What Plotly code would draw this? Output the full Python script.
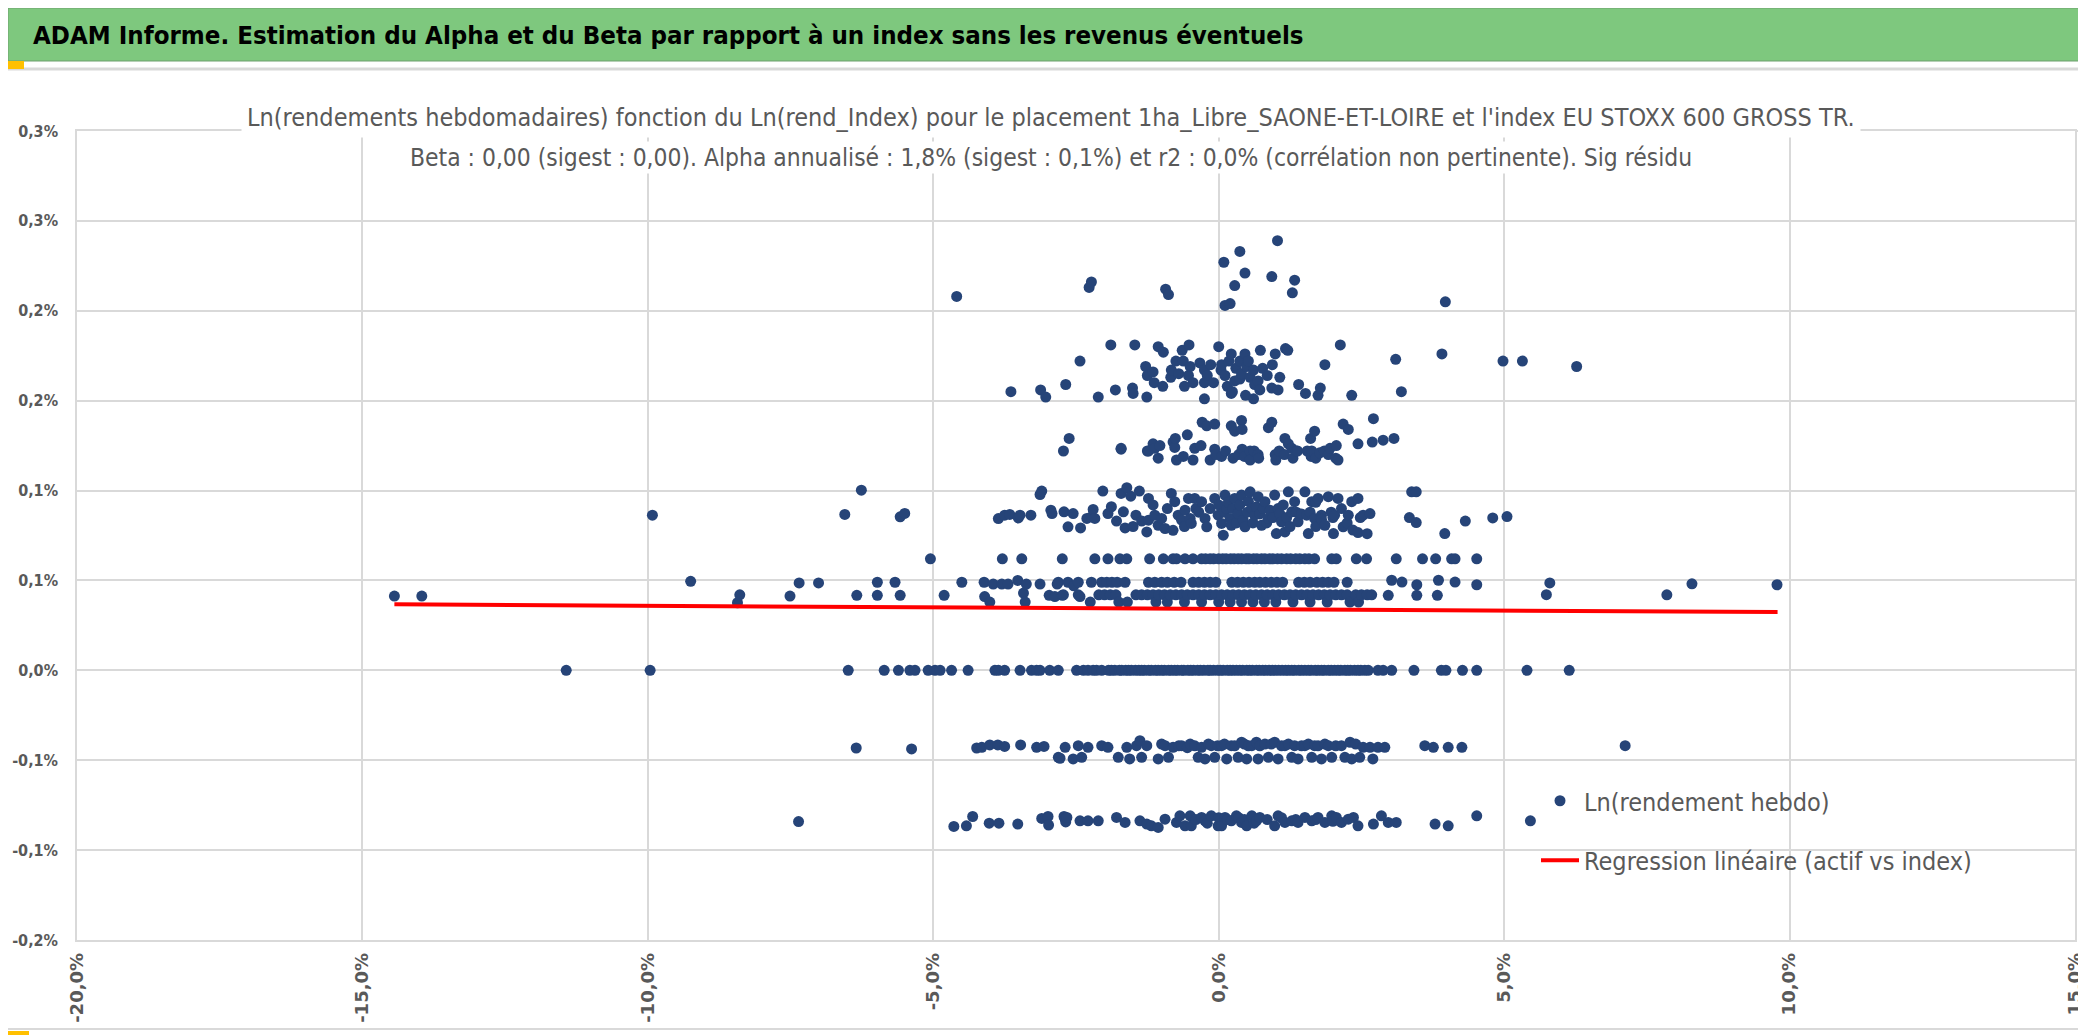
import plotly.graph_objects as go

# --- texts ---------------------------------------------------------------
banner = "ADAM Informe. Estimation du Alpha et du Beta par rapport à un index sans les revenus éventuels"
title_line1 = ("Ln(rendements hebdomadaires) fonction du Ln(rend_Index) pour le placement "
               "1ha_Libre_SAONE-ET-LOIRE et l'index EU STOXX 600 GROSS TR.")
title_line2 = ("Beta : 0,00 (sigest : 0,00). Alpha annualisé : 1,8% (sigest : 0,1%) et r2 : 0,0% "
               "(corrélation non pertinente). Sig résidu")
name_points = "Ln(rendement hebdo)"
name_reg = "Regression linéaire (actif vs index)"

# --- axes ------------------------------------------------------------------
x_ticks = [-20, -15, -10, -5, 0, 5, 10, 15]
x_labels = ["-20,0%", "-15,0%", "-10,0%", "-5,0%", "0,0%", "5,0%", "10,0%", "15,0%"]
y_ticks = [-0.15, -0.10, -0.05, 0.0, 0.05, 0.10, 0.15, 0.20, 0.25, 0.30]
y_labels = ["-0,2%", "-0,1%", "-0,1%", "0,0%", "0,1%", "0,1%", "0,2%", "0,2%", "0,3%", "0,3%"]

# --- data (x = Ln rend index en %, y = Ln rend hebdo en %) ----------------
top_x = [-4.59, -2.27, -2.23, -0.93, -0.88, 0.09, 0.11, 0.20, 0.28, 0.37, 0.46, 0.93, 1.03, 1.29, 1.33, 3.97]
top_y = [0.208, 0.213, 0.216, 0.212, 0.209, 0.227, 0.203, 0.204, 0.214, 0.233, 0.221, 0.219, 0.239, 0.210, 0.217, 0.205]

band_e_x = [-3.64, -3.12, -3.03, -2.68, -2.43, -2.11, -1.89, -1.81, -1.51, -1.50, -1.47, -1.28, -1.26, -1.25,
            -1.15, -1.13, -1.06, -0.98, -0.97, -0.84, -0.83, -0.75, -0.70, -0.64, -0.62, -0.60, -0.53, -0.52,
            -0.50, -0.45, -0.33, -0.25, -0.25, -0.25, -0.20, -0.14, -0.09, 0.00, 0.04, 0.05, 0.11, 0.15, 0.18,
            0.22, 0.22, 0.24, 0.28, 0.30, 0.37, 0.37, 0.40, 0.46, 0.47, 0.49, 0.52, 0.55, 0.61, 0.61, 0.63,
            0.69, 0.72, 0.73, 0.77, 0.85, 0.93, 0.94, 0.99, 1.04, 1.07, 1.17, 1.21, 1.40, 1.52, 1.74, 1.78,
            1.86, 2.13, 2.33, 3.10, 3.20, 3.91, 4.98, 5.32, 6.27]
band_e_y = [0.155, 0.156, 0.152, 0.159, 0.172, 0.152, 0.181, 0.156, 0.157, 0.154, 0.181, 0.169, 0.152, 0.164,
            0.166, 0.160, 0.180, 0.158, 0.177, 0.163, 0.167, 0.172, 0.165, 0.178, 0.172, 0.158, 0.164, 0.181,
            0.169, 0.160, 0.171, 0.167, 0.160, 0.151, 0.164, 0.170, 0.160, 0.180, 0.167, 0.170, 0.164, 0.158, 0.172,
            0.176, 0.154, 0.155, 0.161, 0.168, 0.172, 0.162, 0.165, 0.176, 0.153, 0.169, 0.172, 0.163, 0.167, 0.151, 0.159,
            0.161, 0.156, 0.178, 0.168, 0.164, 0.157, 0.170, 0.176, 0.156, 0.163, 0.179, 0.178, 0.159, 0.154, 0.153, 0.157,
            0.170, 0.181, 0.153, 0.173, 0.155, 0.176, 0.172, 0.172, 0.169]

band_d_x = [-2.72, -2.62, -1.71, -1.71, -1.25, -1.23, -1.15, -1.12, -1.06, -1.03, -0.80, -0.77, -0.76, -0.74,
            -0.62, -0.55, -0.45, -0.42, -0.31, -0.29, -0.21, -0.15, -0.07, -0.07, -0.05, 0.05, 0.12, 0.22,
            0.25, 0.28, 0.35, 0.40, 0.41, 0.41, 0.45, 0.55, 0.55, 0.62, 0.69, 0.70, 0.87, 0.93, 0.99, 1.00,
            1.06, 1.15, 1.16, 1.22, 1.28, 1.30, 1.36, 1.38, 1.55, 1.61, 1.62, 1.63, 1.68, 1.70, 1.77, 1.85,
            1.92, 1.95, 2.05, 2.06, 2.09, 2.18, 2.27, 2.44, 2.69, 2.71, 2.88, 3.07]
band_d_y = [0.122, 0.129, 0.123, 0.1235, 0.122, 0.122, 0.126, 0.1235, 0.118, 0.125, 0.127, 0.124, 0.129, 0.117,
            0.119, 0.131, 0.117, 0.1235, 0.125, 0.138, 0.136, 0.117, 0.137, 0.123, 0.120, 0.119, 0.122, 0.136,
            0.118, 0.133, 0.120, 0.139, 0.134, 0.123, 0.119, 0.122, 0.117, 0.122, 0.120, 0.118, 0.135, 0.138, 0.120, 0.117,
            0.122, 0.120, 0.129, 0.126, 0.1235, 0.118, 0.122, 0.122, 0.122, 0.129, 0.119, 0.122, 0.133, 0.118, 0.121, 0.122,
            0.120, 0.1235, 0.118, 0.125, 0.117, 0.137, 0.134, 0.126, 0.127, 0.140, 0.128, 0.129]

band_c_x = [-9.92, -6.55, -6.26, -5.58, -5.50, -3.86, -3.75, -3.66, -3.51, -3.48, -3.29, -3.13, -3.10, -2.94,
            -2.92, -2.71, -2.64, -2.55, -2.42, -2.31, -2.23, -2.20, -2.17, -2.03, -1.94, -1.88, -1.79, -1.71,
            -1.67, -1.64, -1.61, -1.54, -1.50, -1.45, -1.39, -1.35, -1.26, -1.23, -1.23, -1.15, -1.12, -1.06,
            -1.00, -0.94, -0.90, -0.83, -0.80, -0.77, -0.71, -0.65, -0.60, -0.59, -0.53, -0.50, -0.48, -0.42,
            -0.40, -0.35, -0.30, -0.24, -0.21, -0.15, -0.07, -0.01, 0.00, 0.05, 0.08, 0.10, 0.11, 0.14, 0.17,
            0.20, 0.22, 0.25, 0.28, 0.31, 0.34, 0.37, 0.40, 0.43, 0.46, 0.50, 0.52, 0.55, 0.58, 0.60, 0.63,
            0.66, 0.69, 0.72, 0.75, 0.78, 0.81, 0.84, 0.87, 0.90, 0.95, 0.98, 1.01, 1.04, 1.07, 1.10, 1.13,
            1.16, 1.19, 1.22, 1.25, 1.28, 1.33, 1.36, 1.39, 1.45, 1.51, 1.54, 1.57, 1.60, 1.63, 1.68, 1.70,
            1.70, 1.74, 1.80, 1.80, 1.86, 1.92, 1.97, 2.00, 2.01, 2.03, 2.09, 2.15, 2.18, 2.25, 2.27, 2.33,
            2.35, 2.44, 2.44, 2.48, 2.53, 2.60, 2.65, 3.34, 3.38, 3.46, 3.46, 3.96, 4.32, 4.80, 5.05]
band_c_y = [0.0863, 0.0867, 0.1002, 0.0854, 0.0873, 0.0844, 0.0863, 0.0867, 0.0848, 0.0863, 0.0863, 0.0978, 0.0997, 0.0891,
            0.0872, 0.0882, 0.0798, 0.0872, 0.0792, 0.0845, 0.0854, 0.0895, 0.0845, 0.0997, 0.0872, 0.0910, 0.0830, 0.0984,
            0.0882, 0.0792, 0.1016, 0.0969, 0.0800, 0.0863, 0.0997, 0.0830, 0.0770, 0.0956, 0.0835, 0.0920, 0.0863, 0.0807,
            0.0845, 0.0789, 0.0900, 0.0984, 0.0779, 0.0938, 0.0863, 0.0835, 0.0800, 0.0891, 0.0956, 0.0845, 0.0817, 0.0956,
            0.0900, 0.0880, 0.0938, 0.0845, 0.0798, 0.0900, 0.0956, 0.0863, 0.0920, 0.0817, 0.0752, 0.0880, 0.0975, 0.0900, 0.0935,
            0.0845, 0.0807, 0.0900, 0.0956, 0.0820, 0.0872, 0.0920, 0.0975, 0.0835, 0.0798, 0.0880, 0.0940, 0.0993, 0.0900, 0.0820, 0.0863,
            0.0910, 0.0966, 0.0870, 0.0807, 0.0900, 0.0938, 0.0820, 0.0845, 0.0890, 0.0850, 0.0975, 0.0761, 0.0900, 0.0870, 0.0826, 0.0920,
            0.0770, 0.0850, 0.0993, 0.0800, 0.0882, 0.0938, 0.0880, 0.0826, 0.0870, 0.0993, 0.0863, 0.0761, 0.0880, 0.0938, 0.0845, 0.0935,
            0.0800, 0.0956, 0.0863, 0.0840, 0.0807, 0.0966, 0.0880, 0.0850, 0.0761, 0.0863, 0.0956, 0.0900, 0.0798, 0.0820, 0.0863, 0.0938,
            0.0780, 0.0956, 0.0766, 0.0850, 0.0863, 0.0760, 0.0872, 0.0850, 0.0993, 0.0993, 0.0822, 0.0761, 0.0830, 0.0848, 0.0855]

band_b_y = 0.062
band_b_x = [-5.05, -3.79, -3.45, -2.74, -2.17, -1.94, -1.73, -1.61, -1.21, -0.97, -0.80, -0.74, -0.59, -0.45,
            -0.30, -0.23, -0.15, -0.09, 0.00, 0.07, 0.13, 0.21, 0.27, 0.34, 0.40, 0.48, 0.53, 0.61, 0.67, 0.75,
            0.81, 0.89, 0.95, 1.03, 1.10, 1.19, 1.26, 1.35, 1.42, 1.51, 1.58, 1.68, 1.98, 2.06, 2.41, 2.59,
            3.11, 3.57, 3.80, 4.08, 4.14, 4.52]

band_a_x = [-14.44, -13.96, -9.25, -8.43, -8.39, -7.51, -7.35, -7.01, -6.34, -5.98, -5.98, -5.67, -5.58, -4.81,
            -4.50, -4.11, -4.10, -4.01, -3.95, -3.80, -3.69, -3.52, -3.42, -3.39, -3.37, -3.13, -2.97, -2.87,
            -2.83, -2.81, -2.74, -2.72, -2.64, -2.54, -2.46, -2.46, -2.43, -2.25, -2.23, -2.10, -2.05, -2.00,
            -1.96, -1.90, -1.87, -1.80, -1.78, -1.75, -1.64, -1.60, -1.45, -1.35, -1.25, -1.23, -1.15, -1.12,
            -1.10, -1.05, -1.00, -0.95, -0.90, -0.90, -0.85, -0.78, -0.75, -0.66, -0.65, -0.60, -0.55, -0.45,
            -0.45, -0.35, -0.35, -0.30, -0.25, -0.25, -0.15, -0.15, -0.05, -0.05, 0.00, 0.05, 0.15, 0.20,
            0.23, 0.25, 0.33, 0.35, 0.40, 0.43, 0.45, 0.53, 0.55, 0.60, 0.63, 0.65, 0.72, 0.75, 0.80, 0.82,
            0.85, 0.92, 0.95, 1.00, 1.02, 1.05, 1.12, 1.15, 1.25, 1.30, 1.35, 1.40, 1.45, 1.50, 1.55, 1.60,
            1.60, 1.65, 1.72, 1.75, 1.82, 1.85, 1.90, 1.92, 1.95, 2.02, 2.05, 2.15, 2.25, 2.25, 2.30, 2.40,
            2.45, 2.50, 2.60, 2.68, 2.97, 3.03, 3.21, 3.47, 3.47, 3.83, 3.85, 4.14, 4.52, 5.74, 5.80, 7.85,
            8.29, 9.78]
band_a_y = [0.0413, 0.0413, 0.0495, 0.0376, 0.0420, 0.0413, 0.0486, 0.0486, 0.0417, 0.0490, 0.0417, 0.0490, 0.0417, 0.0417,
            0.0490, 0.0490, 0.0410, 0.0380, 0.0480, 0.0480, 0.0480, 0.0500, 0.0430, 0.0380, 0.0480, 0.0480, 0.0417, 0.0410,
            0.0480, 0.0490, 0.0417, 0.0420, 0.0490, 0.0470, 0.0490, 0.0420, 0.0410, 0.0380, 0.0490, 0.0420, 0.0490, 0.0420,
            0.0490, 0.0420, 0.0490, 0.0420, 0.0490, 0.0380, 0.0490, 0.0380, 0.0420, 0.0420, 0.0420, 0.0490, 0.0420, 0.0490,
            0.0380, 0.0420, 0.0490, 0.0420, 0.0490, 0.0380, 0.0420, 0.0490, 0.0420, 0.0490, 0.0420, 0.0380, 0.0420, 0.0490,
            0.0420, 0.0490, 0.0420, 0.0380, 0.0490, 0.0420, 0.0490, 0.0420, 0.0490, 0.0420, 0.0380, 0.0420, 0.0420, 0.0380,
            0.0490, 0.0420, 0.0490, 0.0420, 0.0380, 0.0490, 0.0420, 0.0490, 0.0420, 0.0380, 0.0490, 0.0420, 0.0490, 0.0420, 0.0380, 0.0490,
            0.0420, 0.0490, 0.0420, 0.0380, 0.0490, 0.0420, 0.0490, 0.0420, 0.0420, 0.0380, 0.0420, 0.0490, 0.0420, 0.0490, 0.0420, 0.0490,
            0.0380, 0.0420, 0.0490, 0.0420, 0.0490, 0.0420, 0.0380, 0.0490, 0.0420, 0.0490, 0.0420, 0.0420, 0.0490, 0.0420, 0.0380, 0.0420,
            0.0380, 0.0420, 0.0420, 0.0420, 0.0417, 0.0501, 0.0491, 0.0476, 0.0417, 0.0417, 0.0501, 0.0491, 0.0476, 0.0421, 0.0486, 0.0420,
            0.0481, 0.0476]

zero_y = 0.0
zero_x = [-11.43, -9.96, -6.49, -5.86, -5.61, -5.41, -5.32, -5.09, -4.97, -4.88, -4.68, -4.39, -3.92, -3.86,
          -3.75, -3.48, -3.28, -3.19, -3.13, -2.96, -2.81, -2.49, -2.37, -2.29, -2.20, -2.14, -2.05, -1.93,
          -1.88, -1.82, -1.74, -1.70, -1.63, -1.58, -1.53, -1.46, -1.40, -1.35, -1.30, -1.23, -1.18, -1.11,
          -1.06, -1.00, -0.95, -0.88, -0.83, -0.77, -0.72, -0.65, -0.61, -0.54, -0.49, -0.44, -0.37, -0.32,
          -0.26, -0.19, -0.15, -0.09, -0.02, 0.03, 0.08, 0.15, 0.20, 0.25, 0.31, 0.37, 0.42, 0.49, 0.54,
          0.59, 0.66, 0.71, 0.77, 0.82, 0.88, 0.94, 0.99, 1.05, 1.11, 1.17, 1.22, 1.28, 1.33, 1.40, 1.45,
          1.51, 1.57, 1.62, 1.69, 1.74, 1.80, 1.85, 1.92, 1.97, 2.03, 2.09, 2.14, 2.21, 2.26, 2.31, 2.38,
          2.44, 2.49, 2.56, 2.62, 2.79, 2.88, 3.03, 3.42, 3.90, 3.98, 4.27, 4.52, 5.40, 6.14]

neg1_x = [-6.35, -5.38, -4.24, -4.15, -4.01, -3.87, -3.75, -3.47, -3.19, -3.06, -2.81, -2.78, -2.69, -2.55,
          -2.46, -2.40, -2.29, -2.05, -1.94, -1.76, -1.61, -1.56, -1.44, -1.38, -1.35, -1.26, -1.06, -1.00,
          -0.94, -0.88, -0.80, -0.70, -0.65, -0.55, -0.50, -0.42, -0.36, -0.30, -0.24, -0.18, -0.13, -0.07,
          -0.02, 0.05, 0.10, 0.14, 0.22, 0.28, 0.34, 0.40, 0.45, 0.49, 0.52, 0.58, 0.66, 0.69, 0.72, 0.81,
          0.87, 0.92, 0.98, 1.04, 1.10, 1.16, 1.22, 1.28, 1.33, 1.39, 1.45, 1.51, 1.57, 1.63, 1.68, 1.74,
          1.80, 1.86, 1.92, 1.98, 2.05, 2.15, 2.21, 2.30, 2.33, 2.40, 2.47, 2.53, 2.65, 2.70, 2.79, 2.91,
          3.61, 3.76, 4.02, 4.26, 7.12]
neg1_y = [-0.0432, -0.0437, -0.0432, -0.0428, -0.0415, -0.0415, -0.0423, -0.0415, -0.0428, -0.0423, -0.0484, -0.0489, -0.0428, -0.0493,
          -0.0419, -0.0484, -0.0428, -0.0419, -0.0428, -0.0484, -0.0428, -0.0493, -0.0419, -0.0391, -0.0484, -0.0419, -0.0493, -0.0410,
          -0.0419, -0.0484, -0.0428, -0.0420, -0.0419, -0.0430, -0.0410, -0.0420, -0.0484, -0.0428, -0.0493, -0.0410, -0.0419, -0.0484,
          -0.0420, -0.0419, -0.0410, -0.0493, -0.0419, -0.0420, -0.0484, -0.0400, -0.0410, -0.0493, -0.0420, -0.0419, -0.0400, -0.0493, -0.0420, -0.0410,
          -0.0484, -0.0410, -0.0400, -0.0493, -0.0420, -0.0419, -0.0410, -0.0484, -0.0419, -0.0493, -0.0420, -0.0419, -0.0410, -0.0484, -0.0419, -0.0420,
          -0.0493, -0.0410, -0.0419, -0.0484, -0.0420, -0.0419, -0.0484, -0.0400, -0.0493, -0.0410, -0.0484, -0.0428, -0.0428, -0.0493, -0.0428, -0.0428,
          -0.0419, -0.0428, -0.0428, -0.0428, -0.0419]

neg2_x = [-7.36, -4.64, -4.42, -4.31, -4.02, -3.85, -3.52, -3.10, -2.99, -2.98, -2.71, -2.69, -2.68, -2.66,
          -2.43, -2.29, -2.11, -1.79, -1.64, -1.38, -1.26, -1.18, -1.06, -0.94, -0.74, -0.68, -0.59, -0.50,
          -0.48, -0.40, -0.30, -0.24, -0.20, -0.13, -0.01, 0.00, 0.05, 0.11, 0.15, 0.22, 0.31, 0.35, 0.40,
          0.45, 0.49, 0.58, 0.62, 0.66, 0.72, 0.85, 0.98, 1.04, 1.10, 1.16, 1.28, 1.35, 1.39, 1.51, 1.63,
          1.70, 1.74, 1.86, 1.98, 2.00, 2.06, 2.15, 2.27, 2.36, 2.44, 2.71, 2.85, 2.97, 3.11, 3.79, 4.02,
          4.52, 5.46]
neg2_y = [-0.0841, -0.0868, -0.0865, -0.0813, -0.0850, -0.0850, -0.0855, -0.0824, -0.0813, -0.0861, -0.0813, -0.0828, -0.0843, -0.0818,
          -0.0837, -0.0837, -0.0837, -0.0818, -0.0846, -0.0837, -0.0855, -0.0865, -0.0874, -0.0828, -0.0846, -0.0809, -0.0865, -0.0809,
          -0.0865, -0.0830, -0.0818, -0.0837, -0.0850, -0.0809, -0.0865, -0.0820, -0.0865, -0.0818, -0.0830, -0.0837, -0.0809, -0.0820, -0.0846,
          -0.0830, -0.0865, -0.0809, -0.0850, -0.0837, -0.0818, -0.0830, -0.0865, -0.0809, -0.0820, -0.0846, -0.0837, -0.0830, -0.0846, -0.0818, -0.0837,
          -0.0830, -0.0818, -0.0846, -0.0809, -0.0840, -0.0818, -0.0846, -0.0828, -0.0818, -0.0865, -0.0855, -0.0809, -0.0846, -0.0846, -0.0855, -0.0865,
          -0.0809, -0.0837]

# droite de regression (extremites)
reg_x = [-14.44, 9.79]
reg_y = [0.0367, 0.0324]

# --- page geometry (pixels) ----------------------------------------------
W, H = 2086, 1035
PL, PR, PT, PB = 69, 2067, 123, 932   # plot area box

CONDENSED = "DejaVu Sans Condensed, DejaVu Sans, sans-serif"
GREY_TXT = "#595959"
GRID = "#d9d9d9"


def px_x(p):
    return (p - PL) / (PR - PL)


def px_y(p):
    return (PB - p) / (PB - PT)


def rect(x0, y0, x1, y1, fill, line=None):
    return dict(type="rect", xref="paper", yref="paper",
                x0=px_x(x0), x1=px_x(x1), y0=px_y(y1), y1=px_y(y0),
                fillcolor=fill, line=dict(width=1 if line else 0, color=line or fill))


def hline(x0, x1, y, color, width=2):
    return dict(type="line", xref="paper", yref="paper",
                x0=px_x(x0), x1=px_x(x1), y0=px_y(y), y1=px_y(y), line=dict(color=color, width=width))


def vline(x, y0, y1, color, width=2):
    return dict(type="line", xref="paper", yref="paper",
                x0=px_x(x), x1=px_x(x), y0=px_y(y0), y1=px_y(y1), line=dict(color=color, width=width))


def main():
    pts_x = top_x + band_e_x + band_d_x + band_c_x + band_b_x + band_a_x + zero_x + neg1_x + neg2_x
    pts_y = (top_y + band_e_y + band_d_y + band_c_y + [band_b_y] * len(band_b_x) + band_a_y
             + [zero_y] * len(zero_x) + neg1_y + neg2_y)

    fig = go.Figure()
    fig.add_trace(go.Scatter(x=pts_x, y=pts_y, mode="markers", name=name_points, legendgroup="a",
                             marker=dict(size=11, color="#264478", line=dict(width=0)),
                             cliponaxis=False))
    fig.add_trace(go.Scatter(x=reg_x, y=reg_y, mode="lines", name=name_reg, legendgroup="b",
                             line=dict(color="#ff0000", width=4)))

    axis_common = dict(showgrid=True, gridcolor=GRID, gridwidth=1.5, zeroline=False, automargin=False,
                       showline=True, linecolor=GRID, linewidth=1.5, mirror=True, ticks="")
    fig.update_xaxes(range=[-20, 15], tickvals=x_ticks, ticktext=x_labels, tickangle=-90,
                     tickfont=dict(family="DejaVu Sans", size=18, color=GREY_TXT, weight="bold"),
                     ticklabelstandoff=4, **axis_common)
    fig.update_yaxes(range=[-0.15, 0.30], tickvals=y_ticks, ticktext=y_labels,
                     tickfont=dict(family=CONDENSED, size=16, color=GREY_TXT, weight="bold"),
                     ticklabelstandoff=14, **axis_common)

    shapes = [
        rect(0, 0, W, 53, "#7ec87e", "#6f9f6f"),
        hline(0, W, 61, GRID, 3),
        hline(PR, 2082, PT, GRID, 2),
        vline(2082, PT, 1021, GRID, 2),
        hline(0, 2082, 1021, GRID, 2),
        rect(0, 53, 16, 61, "#ffc000"),
        rect(2076, 53, W, 68, "#ffc000"),
        rect(0, 1023, 21, H, "#ffc000"),
    ]

    annotations = [
        dict(text=banner, x=px_x(23), y=px_y(27), xanchor="left", yanchor="middle",
             font=dict(family=CONDENSED, size=25.6, color="black", weight="bold")),
        dict(text=title_line1, x=px_x(1043), y=px_y(109), xanchor="center", yanchor="middle",
             font=dict(family=CONDENSED, size=25, color=GREY_TXT), bgcolor="white", borderpad=5),
        dict(text=title_line2, x=px_x(1043), y=px_y(150), xanchor="center", yanchor="middle",
             font=dict(family=CONDENSED, size=24.4, color=GREY_TXT), bgcolor="white"),
    ]
    for a in annotations:
        a.update(xref="paper", yref="paper", showarrow=False)

    fig.update_layout(
        width=W, height=H,
        margin=dict(l=PL, r=W - PR, t=PT, b=H - PB, pad=0),
        paper_bgcolor="white", plot_bgcolor="white",
        shapes=shapes, annotations=annotations,
        showlegend=True,
        legend=dict(x=px_x(1528), y=px_y(770), xanchor="left", yanchor="top",
                    bgcolor="rgba(0,0,0,0)", traceorder="grouped", tracegroupgap=24,
                    itemwidth=38, font=dict(family=CONDENSED, size=25, color=GREY_TXT)),
    )

    fig.write_html("out.html")


if __name__ == "__main__":
    main()
